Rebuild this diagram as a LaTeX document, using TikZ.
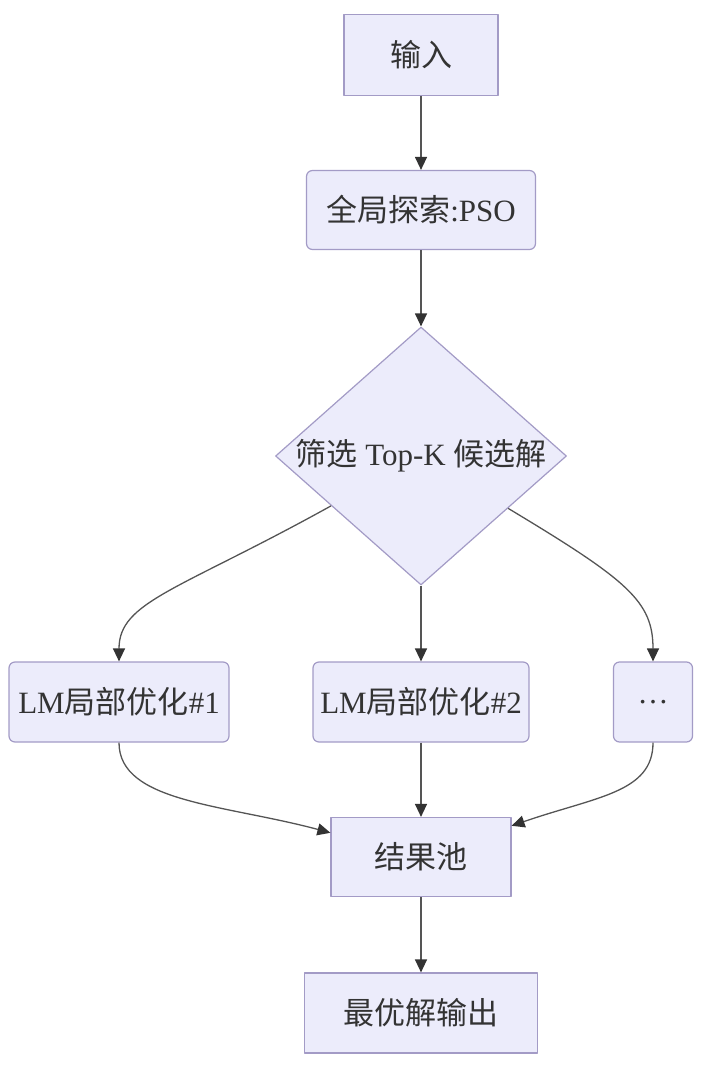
\documentclass[tikz,border=0pt]{standalone}
\usepackage{fontspec}
\setmainfont{Liberation Serif}
\newfontfamily\cjk{Noto Sans CJK SC}
\usetikzlibrary{arrows.meta,shapes.geometric}
\definecolor{boxfill}{HTML}{ECECFB}
\definecolor{boxline}{HTML}{A39BC6}
\definecolor{linecol}{HTML}{555555}
\definecolor{tipcol}{HTML}{333333}
\begin{document}
\begin{tikzpicture}[x=1pt,y=1pt,>={Triangle[length=13pt,width=12pt,color=tipcol]},line join=round,
		font=\fontsize{31}{35}\selectfont,
		box/.style={draw=boxline,fill=boxfill,line width=1.2pt,minimum height=80pt,inner sep=0pt,text=tipcol},
		rbox/.style={box,rounded corners=6pt},
		flow/.style={->,draw=linecol,line width=1.3pt}]
		\useasboundingbox (0,0) rectangle (709,-1067);
		\node[box,minimum width=154pt,minimum height=81pt] (in) at (421,-55) {{\cjk 输入}};
		\node[rbox,minimum width=229pt,minimum height=79pt] (pso) at (421,-210) {{\cjk 全局探索}:PSO};
		\node[box,diamond,aspect=1.13,minimum width=291pt,minimum height=258pt] (d) at (421,-456) {{\cjk 筛选} Top-K {\cjk 候选解}};
		\node[rbox,minimum width=220pt] (lm1) at (119,-702) {LM{\cjk 局部优化}\#1};
		\node[rbox,minimum width=216pt] (lm2) at (421,-702) {LM{\cjk 局部优化}\#2};
		\node[rbox,minimum width=79pt] (dots) at (653,-702) {…};
		\node[box,minimum width=180pt,minimum height=79pt] (pool) at (421,-857) {{\cjk 结果池}};
		\node[box,minimum width=233pt] (out) at (421,-1013) {{\cjk 最优解输出}};
		\draw[flow] (in) -- (pso);
		\draw[flow] (pso) -- (d);
		\draw[flow] (d) to[out=209,in=90,out distance=175pt,in distance=60pt] (lm1);
		\draw[flow] (d) -- (lm2);
		\draw[flow] (d) to[out=329,in=90,out distance=140pt,in distance=60pt] (dots);
		\draw[flow] (lm1) to[out=270,in=165,out distance=60pt,in distance=110pt] (pool);
		\draw[flow] (lm2) -- (pool);
		\draw[flow] (dots) to[out=270,in=19,out distance=50pt,in distance=90pt] (pool);
		\draw[flow] (pool) -- (out);
\end{tikzpicture}
\end{document}
